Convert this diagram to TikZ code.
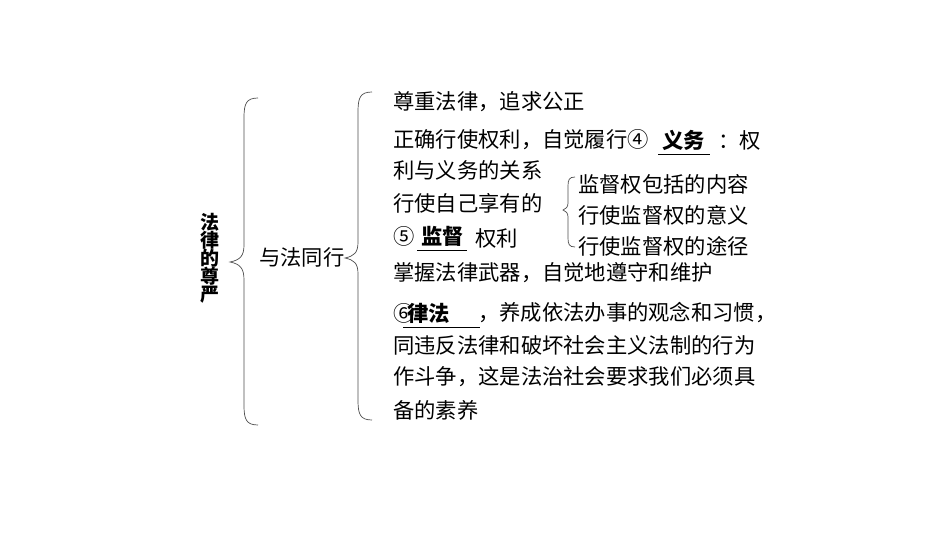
\documentclass[tikz,border=0pt]{standalone}
\usepackage{fontspec}
\newfontfamily\cjk{Noto Sans CJK SC}
\begin{document}
\begin{tikzpicture}[x=1pt,y=-1pt,
  t/.style={anchor=west,inner sep=0pt,font=\cjk\fontsize{21.3}{21.3}\selectfont},
  ans/.style={t,font=\cjk\bfseries\fontsize{21.3}{21.3}\selectfont},
  br/.style={draw=black!70,line width=0.7pt}]
\useasboundingbox (0,0) rectangle (950,535);
% big braces
\draw[br] (258,98) .. controls (246,98) and (244,104) .. (244,118) -- (244,245) .. controls (244,256) and (240,260) .. (230,262)
  .. controls (240,264) and (244,268) .. (244,280) -- (244,405) .. controls (244,419) and (246,425) .. (258,425);
\draw[br] (372,92) .. controls (360,92) and (358,98) .. (358,112) -- (358,242) .. controls (358,253) and (354,256) .. (345,258)
  .. controls (354,260) and (358,263) .. (358,274) -- (358,400) .. controls (358,414) and (360,420) .. (372,420);
\draw[br] (575,177) .. controls (569,177) and (568,180) .. (568,186) -- (568,203) .. controls (568,207) and (566,209) .. (563,210)
  .. controls (566,211) and (568,213) .. (568,217) -- (568,238) .. controls (568,244) and (569,247) .. (575,247);
\node[t,anchor=center,font=\cjk\bfseries\fontsize{19}{19}\selectfont,align=center] (root) at (210,258) {法\\[-1pt]律\\[-1pt]的\\[-1pt]尊\\[-1pt]严};
\node[t] (mid) at (259,257) {与法同行};
\node[t] (l1) at (393,102) {尊重法律，追求公正};
\node[t] (l2a) at (393,140) {正确行使权利，自觉履行④};
\node[ans] (a4) at (662,140) {义务};
\draw (a4.south west)++(-4,4) -- ++(52,0);
\node[t] (l2c) at (718,140) {：权};
\node[t] (l3) at (393,170) {利与义务的关系};
\node[t] (l4) at (393,203) {行使自己享有的};
\node[t] (l5a) at (393,236) {⑤};
\node[ans] (a5) at (421,236) {监督};
\draw (a5.south west)++(-4,4) -- ++(50,0);
\node[t] (l5b) at (475,238) {权利};
\node[t] (s1) at (578,184) {监督权包括的内容};
\node[t] (s2) at (578,215) {行使监督权的意义};
\node[t] (s3) at (578,246) {行使监督权的途径};
\node[t] (l6) at (393,273) {掌握法律武器，自觉地遵守和维护};
\node[t] (l7a) at (393,313) {⑥};
\node[ans] (a6) at (407,313) {律法};
\draw (a6.south west)++(-4,4) -- ++(77,0);
\node[t] (l7b) at (478,313) {，养成依法办事的观念和习惯，};
\node[t] (l8) at (393,345) {同违反法律和破坏社会主义法制的行为};
\node[t] (l9) at (393,377) {作斗争，这是法治社会要求我们必须具};
\node[t] (l10) at (393,410) {备的素养};
\end{tikzpicture}
\end{document}
